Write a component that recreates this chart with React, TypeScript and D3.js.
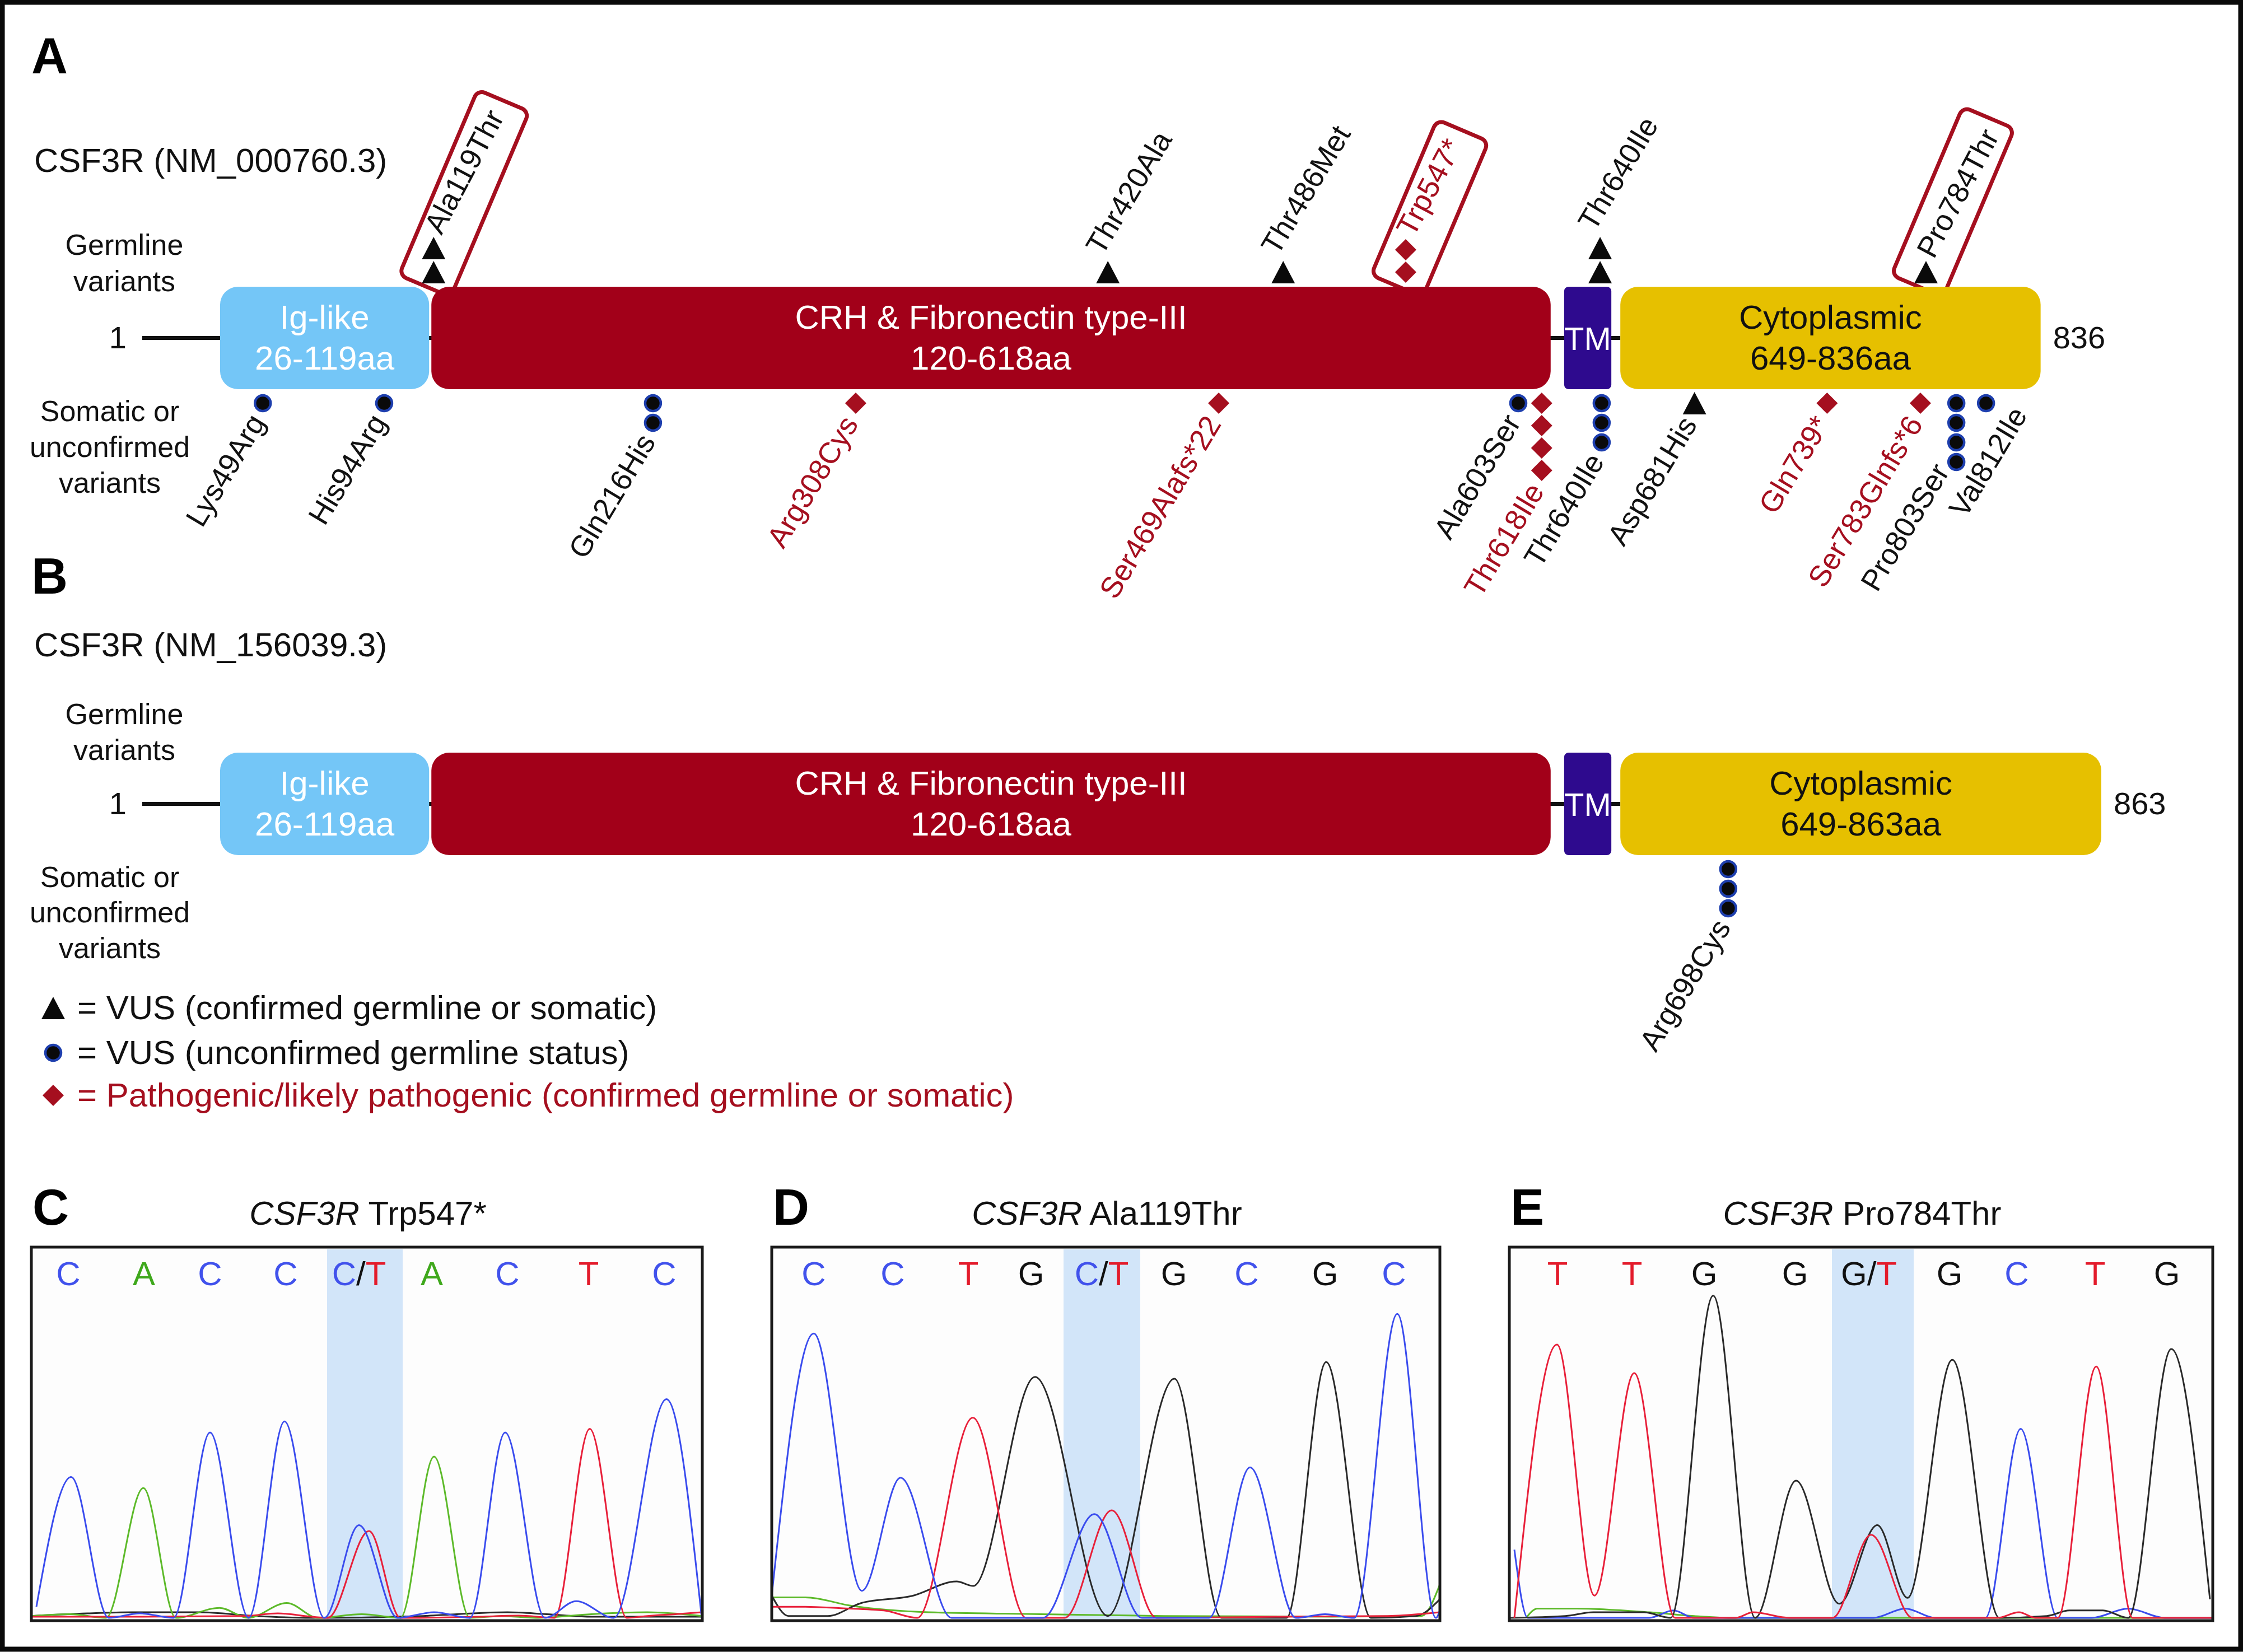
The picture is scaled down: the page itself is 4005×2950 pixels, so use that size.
import React from "react";
import * as d3 from "d3";

const FONT = "'Liberation Sans', Arial, Helvetica, sans-serif";
const RED = "#A50F1F";
const INK = "#111111";

// ---------- Protein data ----------
const DOMAIN_KEYS = ["ig", "crh", "tm", "cyto"];
const DOMAIN_TITLES = ["Ig-like", "CRH & Fibronectin type-III", "TM", "Cytoplasmic"];
const DOMAIN_STARTS = [26, 120, 624, 649];
const DOMAIN_ENDS_A = [119, 618, 645, 836];
const DOMAIN_ENDS_B = [119, 618, 645, 863];
const DOMAIN_RANGES_A = ["26-119aa", "120-618aa", "", "649-836aa"];
const DOMAIN_RANGES_B = ["26-119aa", "120-618aa", "", "649-863aa"];
const PROTEIN_LENGTHS = [836, 863];
const TRANSCRIPTS = ["CSF3R (NM_000760.3)", "CSF3R (NM_156039.3)"];

// variant records: name, drawn position (residue), marker kind, count, highlighted
const GERMLINE_A = [
  { name: "Ala119Thr", at: 121, kind: "tri", n: 2, boxed: true },
  { name: "Thr420Ala", at: 421, kind: "tri", n: 1, boxed: false },
  { name: "Thr486Met", at: 499, kind: "tri", n: 1, boxed: false },
  { name: "Trp547*", at: 553.5, kind: "dia", n: 2, boxed: true },
  { name: "Thr640Ile", at: 640, kind: "tri", n: 2, boxed: false },
  { name: "Pro784Thr", at: 785, kind: "tri", n: 1, boxed: true },
];
const SOMATIC_A = [
  { name: "Lys49Arg", at: 45, kind: "dot", n: 1 },
  { name: "His94Arg", at: 99, kind: "dot", n: 1 },
  { name: "Gln216His", at: 218.6, kind: "dot", n: 2 },
  { name: "Arg308Cys", at: 308.8, kind: "dia", n: 1 },
  { name: "Ser469Alafs*22", at: 470.3, kind: "dia", n: 1 },
  { name: "Ala603Ser", at: 603.6, kind: "dot", n: 1 },
  { name: "Thr618Ile", at: 614, kind: "dia", n: 4 },
  { name: "Thr640Ile", at: 640.7, kind: "dot", n: 3 },
  { name: "Asp681His", at: 682, kind: "tri", n: 1 },
  { name: "Gln739*", at: 741, kind: "dia", n: 1 },
  { name: "Ser783Glnfs*6", at: 782.5, kind: "dia", n: 1 },
  { name: "Pro803Ser", at: 798.5, kind: "dot", n: 4 },
  { name: "Val812Ile", at: 811.7, kind: "dot", n: 1 },
];
const GERMLINE_B: typeof GERMLINE_A = [];
const SOMATIC_B = [{ name: "Arg698Cys", at: 697, kind: "dot", n: 3 }];

const LEGEND_KINDS = ["tri", "dot", "dia"];
const LEGEND_TEXTS = [
  "= VUS (confirmed germline or somatic)",
  "= VUS (unconfirmed germline status)",
  "= Pathogenic/likely pathogenic (confirmed germline or somatic)",
];

// ---------- Chromatogram data (scan index, signal 0-100) ----------
const C_BASES = ["C", "A", "C", "C", "C/T", "A", "C", "T", "C"];
const C_CALLS = [66, 201, 319, 454, 585, 715, 850, 995, 1130];
const C_BAND = [528, 663];
const C_BLUE = [[9, 3], [71, 38], [138, 0], [194, 1.2], [254, 0], [319, 50], [388, 0], [452, 53], [523, 0], [585, 25], [654, 0], [719, 1.5], [783, 0], [846, 50], [917, 0], [973, 4.5], [1040, 0], [1134, 59], [1197, 0]];
const C_GREEN = [[0, 0.5], [70, 1], [133, 0], [200, 35], [258, 0], [336, 2.7], [387, 0], [456, 4], [512, 0], [590, 1], [659, 0], [719, 43.5], [783, 0], [840, 0.5], [900, 0], [1000, 1], [1100, 1.5], [1197, 0.5]];
const C_RED = [[0, 0.3], [200, 0.3], [380, 0.5], [440, 1.2], [500, 0.3], [529, 0], [603, 23.4], [659, 0], [800, 0.3], [870, 0.6], [934, 0], [997, 51], [1063, 0], [1100, 0.5], [1150, 1], [1197, 1.5]];
const C_BLACK = [[0, 0.5], [100, 1.2], [180, 1.5], [300, 1.5], [400, 0.5], [500, 0], [700, 0.5], [760, 1], [850, 1.5], [920, 1], [1000, 0.3], [1197, 0.3]];

const D_BASES = ["C", "C", "T", "G", "C/T", "G", "C", "G", "C"];
const D_CALLS = [75, 216, 351, 463, 589, 718, 848, 988, 1111];
const D_BAND = [521, 658];
const D_BLUE = [[0, 6], [75, 76.7], [161, 7.3], [230, 37.8], [321, 0], [484, 0], [576, 28], [661, 0], [781, 0], [854, 40.6], [936, 0], [988, 1], [1040, 0], [1117, 82], [1186, 0], [1193, 2]];
const D_RED = [[0, 3], [60, 3], [123, 2.6], [200, 2], [260, 0], [359, 54], [454, 0], [523, 0], [607, 29], [687, 0], [900, 0.3], [1100, 0.5], [1193, 1.5]];
const D_BLACK = [[0, 6], [30, 0.5], [100, 0.5], [160, 4], [250, 5.9], [330, 9.8], [360, 8.6], [470, 65], [600, 0.5], [719, 64.5], [803, 0], [919, 0], [990, 69], [1070, 0], [1150, 0.5], [1193, 5]];
const D_GREEN = [[0, 5.5], [60, 5.5], [144, 3.2], [280, 1.5], [480, 1], [700, 0.5], [1000, 0.3], [1160, 0.5], [1193, 9]];

const E_BASES = ["T", "T", "G", "G", "G/T", "G", "C", "T", "G"];
const E_CALLS = [86, 219, 348, 510, 642, 786, 906, 1046, 1174];
const E_BAND = [576, 722];
const E_RED = [[9, 0], [85, 73.7], [152, 6], [223, 66], [296, 0], [404, 0], [435, 1.5], [500, 0], [577, 0], [646, 22.4], [720, 0], [871, 0], [910, 1.5], [940, 0], [979, 0], [1048, 67.8], [1113, 0], [1256, 0]];
const E_BLACK = [[0, 0], [100, 0.5], [150, 1.5], [240, 1.5], [288, 0], [364, 86.9], [439, 0], [512, 37], [589, 3.8], [657, 25], [711, 5.4], [791, 69.6], [875, 0], [960, 0.5], [1000, 2], [1060, 2], [1105, 0], [1182, 72.5], [1251, 5]];
const E_BLUE = [[9, 18.4], [33, 0], [250, 0], [293, 2], [330, 0], [650, 0], [707, 2.5], [760, 0], [850, 0], [913, 51], [979, 0], [1040, 0], [1105, 2.5], [1170, 0], [1256, 0]];
const E_GREEN = [[30, 0], [50, 2.5], [120, 2.5], [250, 1.5], [330, 0.5], [400, 0], [1256, 0]];

const CHROM_TITLES = ["Trp547*", "Ala119Thr", "Pro784Thr"];

// ---------- Styles / layout ----------
const DOMAIN_FILL: Record<string, string> = { ig: "#74C6F7", crh: "#A20019", tm: "#2E0A8E", cyto: "#E6C000" };
const DOMAIN_INK: Record<string, string> = { ig: "#FFFFFF", crh: "#FFFFFF", tm: "#FFFFFF", cyto: "#111111" };
const BASE_COLOR: Record<string, string> = { C: "#4152EC", A: "#3FA81C", T: "#E31B2B", G: "#111111" };
const TRACE_COLOR = { blue: "#3A4CEE", red: "#E8203A", green: "#5DBA2A", black: "#2A2A2A" };
const SPACING: Record<string, number> = { tri: 43, dot: 35, dia: 40 };
const HALF: Record<string, number> = { tri: 20, dot: 16, dia: 19 };
const LABEL_ANGLE = -59;
const BOX_LABEL_ANGLE = -62;
const BOX_ANGLE = -67;
const LABEL_SIZE = 53;
const LABEL_NUDGE: Record<string, [number, number]> = { Val812Ile: [69, -13], Pro803Ser: [-17, -17] };

let _ctx: CanvasRenderingContext2D | null = null;
function textWidth(t: string, size: number) {
  if (!_ctx) _ctx = document.createElement("canvas").getContext("2d");
  if (!_ctx) return t.length * size * 0.55;
  _ctx.font = `${size}px 'Liberation Sans', Arial, sans-serif`;
  return _ctx.measureText(t).width;
}

function Marker({ kind, cx, cy }: { kind: string; cx: number; cy: number }) {
  if (kind === "tri") {
    const p = d3.path();
    p.moveTo(cx - 21, cy + 20); p.lineTo(cx + 21, cy + 20); p.lineTo(cx, cy - 20); p.closePath();
    return <path d={p.toString()} fill="#0A0A0A" />;
  }
  if (kind === "dia") {
    const p = d3.path();
    p.moveTo(cx, cy - 19); p.lineTo(cx + 19, cy); p.lineTo(cx, cy + 19); p.lineTo(cx - 19, cy); p.closePath();
    return <path d={p.toString()} fill={RED} />;
  }
  return <circle cx={cx} cy={cy} r={14} fill="#0A0A0A" stroke="#1E3FAE" strokeWidth={4.5} />;
}

type Variant = { name: string; at: number; kind: string; n: number; boxed?: boolean };

function Protein(props: {
  x: d3.ScaleLinear<number, number>;
  barTop: number;
  ends: number[];
  ranges: string[];
  length: number;
  germ: Variant[];
  som: Variant[];
}) {
  const { x, barTop, ends, ranges, length, germ, som } = props;
  const barH = 183;
  const barBot = barTop + barH;
  const mid = barTop + barH / 2;
  const lineStart = x(26) - 139;

  const boxes = germ.filter((v) => v.boxed).map((v) => {
    const mx = x(v.at);
    const sp = SPACING[v.kind];
    const topC = barTop - 26 - (v.n - 1) * sp;
    const ext = barTop - (topC - HALF[v.kind]);
    const len = ext + textWidth(v.name, LABEL_SIZE) + 30;
    return (
      <g key={"box" + v.name} transform={`translate(${mx},${barTop}) rotate(${BOX_ANGLE})`}>
        <rect x={-5} y={-65} width={len} height={100} rx={14} fill="#fff" stroke={RED} strokeWidth={7} />
      </g>
    );
  });

  const germMarks = germ.map((v) => {
    const mx = x(v.at);
    const sp = SPACING[v.kind];
    const centers = d3.range(v.n).map((i) => barTop - 26 - i * sp);
    const top = centers[centers.length - 1] - HALF[v.kind];
    const tx = v.boxed ? mx + 14 : mx - 10;
    const ty = v.boxed ? top - 2 : top - 8;
    const ang = v.boxed ? BOX_LABEL_ANGLE : LABEL_ANGLE;
    return (
      <g key={"g" + v.name}>
        {centers.map((cy, i) => <Marker key={i} kind={v.kind} cx={mx} cy={cy} />)}
        <text x={tx} y={ty} transform={`rotate(${ang},${tx},${ty})`} fontSize={LABEL_SIZE}
          fill={v.kind === "dia" ? RED : INK}>{v.name}</text>
      </g>
    );
  });

  const somMarks = som.map((v) => {
    const mx = x(v.at);
    const sp = SPACING[v.kind];
    const centers = d3.range(v.n).map((i) => barBot + 25 + i * sp);
    const bottom = centers[centers.length - 1] + HALF[v.kind];
    const nudge = LABEL_NUDGE[v.name] || [0, 0];
    const tx = mx + 6 + nudge[0];
    const ty = bottom + 18 + nudge[1];
    return (
      <g key={"s" + v.name}>
        {centers.map((cy, i) => <Marker key={i} kind={v.kind} cx={mx} cy={cy} />)}
        <text x={tx} y={ty} transform={`rotate(${LABEL_ANGLE},${tx},${ty})`} fontSize={LABEL_SIZE}
          textAnchor="end" fill={v.kind === "dia" ? RED : INK}>{v.name}</text>
      </g>
    );
  });

  return (
    <g>
      {boxes}
      <line x1={lineStart} x2={x(DOMAIN_STARTS[3])} y1={mid} y2={mid} stroke="#111" strokeWidth={7} />
      <text x={lineStart - 28} y={mid + 18} fontSize={56} textAnchor="end" fill={INK}>1</text>
      <text x={x(length) + 22} y={mid + 18} fontSize={56} fill={INK}>{length}</text>
      {DOMAIN_KEYS.map((k, i) => {
        const x0 = x(DOMAIN_STARTS[i]);
        const x1 = x(ends[i]);
        const cx = (x0 + x1) / 2;
        return (
          <g key={k}>
            <rect x={x0} y={barTop} width={x1 - x0} height={barH} rx={k === "tm" ? 8 : 32} fill={DOMAIN_FILL[k]} />
            {k === "tm" ? (
              <text x={cx} y={mid + 21} fontSize={58} textAnchor="middle" fill={DOMAIN_INK[k]}>{DOMAIN_TITLES[i]}</text>
            ) : (
              <>
                <text x={cx} y={barTop + 75} fontSize={60} textAnchor="middle" fill={DOMAIN_INK[k]}>{DOMAIN_TITLES[i]}</text>
                <text x={cx} y={barTop + 148} fontSize={60} textAnchor="middle" fill={DOMAIN_INK[k]}>{ranges[i]}</text>
              </>
            )}
          </g>
        );
      })}
      {germMarks}
      {somMarks}
    </g>
  );
}

function BaseLetter({ b, x, y }: { b: string; x: number; y: number }) {
  if (b.includes("/")) {
    const [a, c] = b.split("/");
    return (
      <text x={x} y={y} fontSize={60} textAnchor="middle">
        <tspan fill={BASE_COLOR[a]}>{a}</tspan>
        <tspan fill="#111">/</tspan>
        <tspan fill={BASE_COLOR[c]}>{c}</tspan>
      </text>
    );
  }
  return <text x={x} y={y} fontSize={60} textAnchor="middle" fill={BASE_COLOR[b]}>{b}</text>;
}

function Chromatogram(props: {
  id: string; letter: string; title: string; x0: number; x1: number; span: number;
  bases: string[]; calls: number[]; band: number[];
  traces: { color: string; pts: number[][] }[];
}) {
  const { id, letter, title, x0, x1, span, bases, calls, band, traces } = props;
  const top = 2227, bottom = 2894;
  const sx = d3.scaleLinear().domain([0, span]).range([x0, x1]);
  const sy = d3.scaleLinear().domain([0, 100]).range([2889, top]);
  const line = d3.line<number[]>().x((d) => sx(d[0])).y((d) => sy(d[1])).curve(d3.curveMonotoneX);
  return (
    <g>
      <text x={x0 + 2} y={2187} fontSize={90} fontWeight="bold" fill="#000">{letter}</text>
      <text x={(x0 + x1) / 2 + 2} y={2187} fontSize={60} textAnchor="middle" fill="#111">
        <tspan fontStyle="italic">CSF3R</tspan>{" " + title}
      </text>
      <clipPath id={"clip" + id}>
        <rect x={x0} y={top} width={x1 - x0} height={bottom - top} />
      </clipPath>
      <rect x={x0} y={top} width={x1 - x0} height={bottom - top} fill="#FDFDFD" />
      <rect x={sx(band[0])} y={top + 4} width={sx(band[1]) - sx(band[0])} height={bottom - top - 6} fill="#D2E5F9" />
      <g clipPath={`url(#clip${id})`}>
        {traces.map((t, i) => (
          <path key={i} d={line(t.pts) || ""} fill="none" stroke={t.color} strokeWidth={3} />
        ))}
      </g>
      <rect x={x0} y={top} width={x1 - x0} height={bottom - top} fill="none" stroke="#1A1A1A" strokeWidth={5} />
      {bases.map((b, i) => <BaseLetter key={i} b={b} x={sx(calls[i])} y={2295} />)}
    </g>
  );
}

export default function App() {
  const x = d3.scaleLinear().domain([26, 863]).range([393, 3752]);
  const legendY = [1800, 1880, 1956];
  return (
    <svg width={4005} height={2950} viewBox="0 0 4005 2950" fontFamily={FONT}
      style={{ position: "absolute", left: 0, top: 0, display: "block" }}>
      <rect x={0} y={0} width={4005} height={2950} fill="#fff" />

      {/* Panel A */}
      <text x={56} y={131} fontSize={90} fontWeight="bold" fill="#000">A</text>
      <text x={61} y={307} fontSize={60} fill={INK}>{TRANSCRIPTS[0]}</text>
      <text x={222} y={455} fontSize={52} textAnchor="middle" fill={INK}>Germline</text>
      <text x={222} y={520} fontSize={52} textAnchor="middle" fill={INK}>variants</text>
      <text x={196} y={752} fontSize={52} textAnchor="middle" fill={INK}>Somatic or</text>
      <text x={196} y={816} fontSize={52} textAnchor="middle" fill={INK}>unconfirmed</text>
      <text x={196} y={880} fontSize={52} textAnchor="middle" fill={INK}>variants</text>
      <Protein x={x} barTop={512} ends={DOMAIN_ENDS_A} ranges={DOMAIN_RANGES_A} length={PROTEIN_LENGTHS[0]}
        germ={GERMLINE_A} som={SOMATIC_A} />

      {/* Panel B */}
      <text x={56} y={1060} fontSize={90} fontWeight="bold" fill="#000">B</text>
      <text x={61} y={1172} fontSize={60} fill={INK}>{TRANSCRIPTS[1]}</text>
      <text x={222} y={1293} fontSize={52} textAnchor="middle" fill={INK}>Germline</text>
      <text x={222} y={1357} fontSize={52} textAnchor="middle" fill={INK}>variants</text>
      <text x={196} y={1584} fontSize={52} textAnchor="middle" fill={INK}>Somatic or</text>
      <text x={196} y={1647} fontSize={52} textAnchor="middle" fill={INK}>unconfirmed</text>
      <text x={196} y={1711} fontSize={52} textAnchor="middle" fill={INK}>variants</text>
      <Protein x={x} barTop={1344} ends={DOMAIN_ENDS_B} ranges={DOMAIN_RANGES_B} length={PROTEIN_LENGTHS[1]}
        germ={GERMLINE_B} som={SOMATIC_B} />

      {/* Legend */}
      {LEGEND_KINDS.map((k, i) => (
        <g key={k}>
          <Marker kind={k} cx={95} cy={legendY[i]} />
          <text x={138} y={legendY[i] + 20} fontSize={60} fill={k === "dia" ? RED : INK}>{LEGEND_TEXTS[i]}</text>
        </g>
      ))}

      {/* Chromatograms */}
      <Chromatogram id="c" letter="C" title={CHROM_TITLES[0]} x0={56} x1={1254} span={1198}
        bases={C_BASES} calls={C_CALLS} band={C_BAND}
        traces={[{ color: TRACE_COLOR.black, pts: C_BLACK }, { color: TRACE_COLOR.green, pts: C_GREEN },
          { color: TRACE_COLOR.red, pts: C_RED }, { color: TRACE_COLOR.blue, pts: C_BLUE }]} />
      <Chromatogram id="d" letter="D" title={CHROM_TITLES[1]} x0={1378} x1={2571} span={1193}
        bases={D_BASES} calls={D_CALLS} band={D_BAND}
        traces={[{ color: TRACE_COLOR.green, pts: D_GREEN }, { color: TRACE_COLOR.black, pts: D_BLACK },
          { color: TRACE_COLOR.red, pts: D_RED }, { color: TRACE_COLOR.blue, pts: D_BLUE }]} />
      <Chromatogram id="e" letter="E" title={CHROM_TITLES[2]} x0={2695} x1={3951} span={1256}
        bases={E_BASES} calls={E_CALLS} band={E_BAND}
        traces={[{ color: TRACE_COLOR.green, pts: E_GREEN }, { color: TRACE_COLOR.blue, pts: E_BLUE },
          { color: TRACE_COLOR.black, pts: E_BLACK }, { color: TRACE_COLOR.red, pts: E_RED }]} />

      {/* Outer frame */}
      <rect x={4} y={4} width={3997} height={2941} fill="none" stroke="#0A0A0A" strokeWidth={9} />
    </svg>
  );
}
